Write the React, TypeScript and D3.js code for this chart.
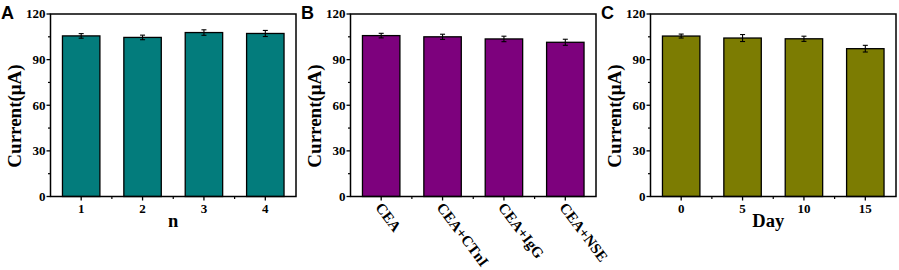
import React from "react";
import * as d3 from "d3";

const catsA = ["1", "2", "3", "4"];
const valsA = [105.6, 104.6, 107.8, 107.2];
const errA = [1.5, 1.5, 1.8, 2.0];

const catsB = ["CEA", "CEA+CTnI", "CEA+IgG", "CEA+NSE"];
const valsB = [105.8, 105.0, 103.6, 101.4];
const errB = [1.5, 1.7, 1.8, 2.0];

const catsC = ["0", "5", "10", "15"];
const valsC = [105.5, 104.2, 103.7, 97.2];
const errC = [1.3, 2.3, 1.7, 2.2];

const yTicks = [0, 30, 60, 90, 120];
const yMinor = [15, 45, 75, 105];

const SERIF = "'Liberation Serif', 'Times New Roman', serif";
const SANS = "'Liberation Sans', Arial, sans-serif";

type PanelProps = {
  ox: number;
  letter: string;
  cats: string[];
  vals: number[];
  errs: number[];
  color: string;
  xTitle?: string;
  rotate?: boolean;
};

function Panel({ ox, letter, cats, vals, errs, color, xTitle, rotate }: PanelProps) {
  const left = ox + 50.5;
  const right = ox + 296;
  const top = 14;
  const bottom = 196.5;
  const x = d3.scaleBand<string>().domain(cats).range([left, right]).paddingInner(0).paddingOuter(0);
  const y = d3.scaleLinear().domain([0, 120]).range([bottom, top]);
  const bw = x.bandwidth() * 0.61;
  const bounds = cats.slice(1).map((c) => x(c)!);
  return (
    <g>
      <text x={ox + 1} y={19} fontFamily={SANS} fontWeight="bold" fontSize={18} fill="#000">
        {letter}
      </text>
      {cats.map((c, i) => {
        const cx = x(c)! + x.bandwidth() / 2;
        return (
          <g key={c}>
            <rect
              x={cx - bw / 2}
              y={y(vals[i])}
              width={bw}
              height={y(0) - y(vals[i])}
              fill={color}
              stroke="#000"
              strokeWidth={1.3}
            />
            <line x1={cx} x2={cx} y1={y(vals[i] + errs[i])} y2={y(vals[i] - errs[i])} stroke="#000" strokeWidth={1.1} />
            <line x1={cx - 2.5} x2={cx + 2.5} y1={y(vals[i] + errs[i])} y2={y(vals[i] + errs[i])} stroke="#000" strokeWidth={1.1} />
            <line x1={cx - 2.5} x2={cx + 2.5} y1={y(vals[i] - errs[i])} y2={y(vals[i] - errs[i])} stroke="#000" strokeWidth={1.1} />
            <line x1={cx} x2={cx} y1={bottom} y2={bottom + 4} stroke="#000" strokeWidth={1.3} />
            {rotate ? (
              <text
                transform={`translate(${cx - 6.5},${207.5}) rotate(53)`}
                fontFamily={SERIF}
                fontWeight="bold"
                fontSize={15}
                fill="#000"
              >
                {c}
              </text>
            ) : (
              <text x={cx} y={213} textAnchor="middle" fontFamily={SERIF} fontWeight="bold" fontSize={13} fill="#000">
                {c}
              </text>
            )}
          </g>
        );
      })}
      {bounds.map((b, i) => (
        <line key={"mb" + i} x1={b} x2={b} y1={bottom} y2={bottom + 2.5} stroke="#000" strokeWidth={1.2} />
      ))}
      {yTicks.map((t) => (
        <g key={"yt" + t}>
          <line x1={left - 4} x2={left} y1={y(t)} y2={y(t)} stroke="#000" strokeWidth={1.3} />
          <text
            x={left - 5}
            y={y(t) + 4.3}
            textAnchor="end"
            fontFamily={SERIF}
            fontWeight="bold"
            fontSize={13}
            fill="#000"
          >
            {t}
          </text>
        </g>
      ))}
      {yMinor.map((t) => (
        <line key={"ym" + t} x1={left - 2.5} x2={left} y1={y(t)} y2={y(t)} stroke="#000" strokeWidth={1.2} />
      ))}
      <rect x={left} y={top} width={right - left} height={bottom - top} fill="none" stroke="#000" strokeWidth={1.5} />
      <text
        transform={`translate(${ox + 20.5},${116}) rotate(-90)`}
        textAnchor="middle"
        fontFamily={SERIF}
        fontWeight="bold"
        fontSize={19}
        fill="#000"
      >
        Current(μA)
      </text>
      {xTitle && (
        <text
          x={(left + right) / 2 - (xTitle === "Day" ? 5 : 0)}
          y={227}
          textAnchor="middle"
          fontFamily={SERIF}
          fontWeight="bold"
          fontSize={18.5}
          fill="#000"
        >
          {xTitle}
        </text>
      )}
    </g>
  );
}

export default function App() {
  return (
    <svg
      width={899}
      height={270}
      style={{ position: "absolute", left: 0, top: 0, background: "#fff" }}
    >
      <rect x={0} y={0} width={899} height={270} fill="#fff" />
      <Panel ox={0} letter="A" cats={catsA} vals={valsA} errs={errA} color="#037c7c" xTitle="n" />
      <Panel ox={300} letter="B" cats={catsB} vals={valsB} errs={errB} color="#7d017d" rotate />
      <Panel ox={600} letter="C" cats={catsC} vals={valsC} errs={errC} color="#7c7c02" xTitle="Day" />
    </svg>
  );
}
